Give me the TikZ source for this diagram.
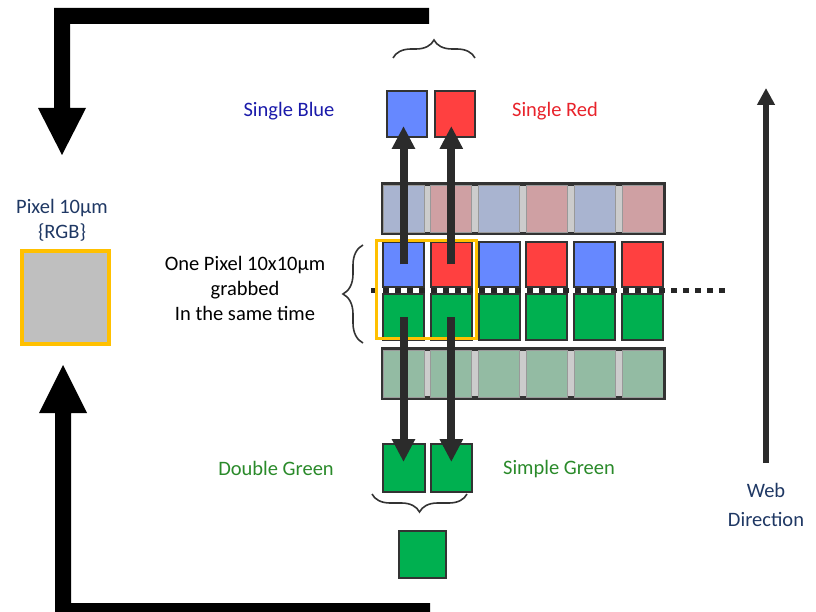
\documentclass[tikz,border=0pt]{standalone}
\usepackage{fontspec}
\setmainfont{Carlito}
\usetikzlibrary{arrows.meta,decorations.pathreplacing,calc}
\definecolor{cblue}{HTML}{6688FF}
\definecolor{cred}{HTML}{FF4040}
\definecolor{cgreen}{HTML}{00B050}
\definecolor{fblue}{HTML}{A9B4D0}
\definecolor{fred}{HTML}{CFA0A3}
\definecolor{fgreen}{HTML}{93BBA3}
\definecolor{gapgrey}{HTML}{CCCCCC}
\definecolor{cellborder}{HTML}{333333}
\definecolor{arrowdark}{HTML}{2B2B2B}
\definecolor{frameyellow}{HTML}{FFC000}
\definecolor{pixelgrey}{HTML}{BFBFBF}
\definecolor{txtblue}{HTML}{1A1AAA}
\definecolor{txtred}{HTML}{E8232B}
\definecolor{txtgreen}{HTML}{2A8A2A}
\definecolor{navy}{HTML}{1F3864}
\begin{document}
\begin{tikzpicture}[x=1pt,y=-1pt,
  cell/.style={draw=cellborder, line width=2pt, inner sep=0pt, minimum width=41pt, minimum height=45pt},
  fcell/.style={draw=gray!80, line width=1pt, inner sep=0pt, minimum width=41pt, minimum height=47pt},
  rowbox/.style={draw=cellborder, line width=2.5pt, fill=gapgrey, inner sep=0pt, minimum width=280pt, minimum height=48pt},
  midarrow/.style={draw=arrowdark, line width=8pt, -{Triangle[width=22pt,length=23pt]}},
  webarrow/.style={draw=arrowdark, line width=6pt, -{Triangle[width=17pt,length=17pt]}},
  bigarrow/.style={fill=black},
  lbl/.style={font=\fontsize{20.5}{25}\selectfont, inner sep=0pt, align=center},
  bracedraw/.style={draw=cellborder, line width=1.6pt, decorate},
  dotline/.style={draw=black!85, line width=5pt, dash pattern=on 6pt off 6pt}
]
\useasboundingbox (0,0) rectangle (816,612);

% big black L arrows
\fill[bigarrow] (429,8) -- (54,8) -- (54,108) -- (38,108) -- (62,155) -- (86,108) -- (70,108) -- (70,24) -- (429,24) -- cycle;
\fill[bigarrow] (430,603) -- (71,603) -- (71,413) -- (87,413) -- (63,365) -- (39,413) -- (55,413) -- (55,620) -- (430,620) -- cycle;

% left pixel
\node[lbl, text=navy] (pixlbl) at (62,220) {Pixel 10µm\\\{RGB\}};
\node[draw=frameyellow, line width=4pt, fill=pixelgrey, inner sep=0pt, minimum width=87pt, minimum height=93pt] (pix) at (65.5,297.5) {};

% faded rows
\node[rowbox] (ftop) at (523,209) {};
\foreach \i/\c in {0/fblue,1/fred,2/fblue,3/fred,4/fblue,5/fred}
  \node[fcell, fill=\c] (ft\i) at ({403.5+47.8*\i},209) {};
\draw[draw=cellborder, line width=2.5pt] (ftop.north west) rectangle (ftop.south east);

\node[rowbox] (fbot) at (523,373.5) {};
\foreach \i in {0,...,5}
  \node[fcell, fill=fgreen] (fb\i) at ({403.5+47.8*\i},373.5) {};
\draw[draw=cellborder, line width=2.5pt] (fbot.north west) rectangle (fbot.south east);

% middle rows
\foreach \i/\c in {0/cblue,1/cred,2/cblue,3/cred,4/cblue,5/cred}
  \node[cell, fill=\c] (m\i) at ({403.5+47.8*\i},264.5) {};
\foreach \i in {0,...,5}
  \node[cell, fill=cgreen, minimum height=46pt] (g\i) at ({403.5+47.8*\i},317) {};

\coordinate (dl) at (371,290.5);
\coordinate (dr) at (726,290.5);
\draw[dotline] (dl) -- (dr);

% yellow frame
\node[draw=frameyellow, line width=3.5pt, inner sep=0pt, minimum width=100pt, minimum height=98pt] (frame) at (426.5,289.5) {};

% single blue / red boxes
\node[cell, fill=cblue, minimum width=40pt, minimum height=46pt] (sb) at (407,114) {};
\node[cell, fill=cred, minimum width=40pt, minimum height=46pt] (sr) at (455,114) {};
\node[lbl, text=txtblue] (sbl) at (289,111) {Single Blue};
\node[lbl, text=txtred] (srl) at (555,111) {Single Red};

% double green boxes
\node[cell, fill=cgreen, minimum width=42pt, minimum height=48pt] (dg1) at (404,468) {};
\node[cell, fill=cgreen, minimum width=41pt, minimum height=48pt] (dg2) at (451.5,468) {};
\node[cell, fill=cgreen, minimum width=47pt, minimum height=47pt] (sg) at (422.5,554.5) {};
\node[lbl, text=txtgreen] (dgl) at (276,468) {Double Green};
\node[lbl, text=txtgreen] (sgl) at (559,469) {Simple Green};

% arrows
\coordinate (sbt) at (407,126);
\coordinate (dgt) at (404,462);
\draw[midarrow] (m0.center) -- (m0.center |- sbt);
\draw[midarrow] (m1.center) -- (m1.center |- sbt);
\draw[midarrow] (g0.center) -- (g0.center |- dgt);
\draw[midarrow] (g1.center) -- (g1.center |- dgt);

% braces
\coordinate (tbl) at (393,58);
\coordinate (tbr) at (475,58);
\draw[bracedraw, decoration={brace, amplitude=18pt}] (tbl) -- (tbr);
\coordinate (bbl) at (372,494);
\coordinate (bbr) at (467,494);
\draw[bracedraw, decoration={brace, amplitude=18pt, mirror}] (bbl) -- (bbr);
\coordinate (lbt) at (363,245);
\coordinate (lbb) at (363,343);
\draw[bracedraw, decoration={brace, amplitude=20pt}] (lbb) -- (lbt);

% left text
\node[lbl] (grab) at (245,288) {One Pixel 10x10µm\\grabbed\\In the same time};

% web direction
\coordinate (wb) at (766,463);
\coordinate (wt) at (766,88);
\draw[webarrow] (wb) -- (wt);
\node[lbl, text=navy, font=\fontsize{20.5}{29}\selectfont] (webl) at (766,505) {Web\\Direction};
\end{tikzpicture}
\end{document}
